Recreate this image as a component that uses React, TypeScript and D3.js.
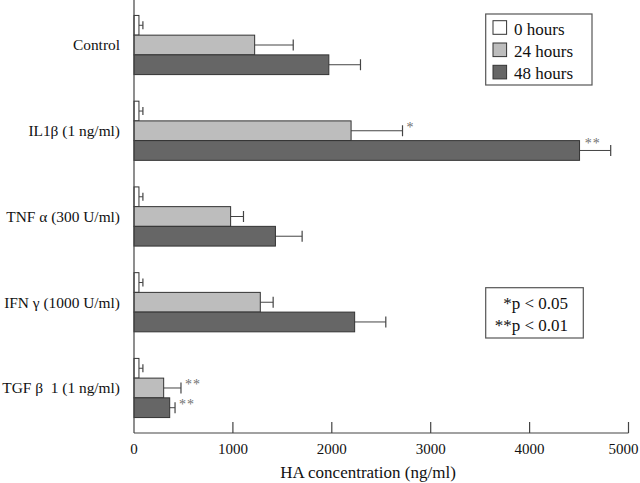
import React from "react";
import * as d3 from "d3";

const categories = ["Control", "IL1β (1 ng/ml)", "TNF α (300 U/ml)", "IFN γ (1000 U/ml)", "TGF β\u00a0\u00a01 (1 ng/ml)"];
const seriesNames = ["0 hours", "24 hours", "48 hours"];
const hours0 = [50, 50, 50, 50, 50];
const hours24 = [1220, 2195, 977, 1277, 300];
const hours48 = [1970, 4505, 1430, 2231, 361];
const err0 = [40, 40, 40, 40, 40];
const err24 = [390, 520, 130, 130, 175];
const err48 = [320, 315, 270, 315, 54];
const sig24 = ["", "*", "", "", "**"];
const sig48 = ["", "**", "", "", "**"];
const xTicks = [0, 1000, 2000, 3000, 4000, 5000];
const pNotes = ["*p < 0.05", "**p < 0.01"];

const fills = ["#ffffff", "#bdbdbd", "#666666"];
const FONT = "'Liberation Serif', 'Times New Roman', serif";

export default function App() {
  const x0 = 134;
  const x1 = 628.5;
  const axisY = 433;
  const x = d3.scaleLinear().domain([0, 5000]).range([x0, x1]);
  const y = d3.scaleBand<string>().domain(categories).range([0, axisY]).paddingInner(0.31).paddingOuter(0.18);
  const sub = d3.scaleBand<number>().domain([0, 1, 2]).range([0, y.bandwidth()]);
  const values = [hours0, hours24, hours48];
  const errs = [err0, err24, err48];
  const sigs = [null, sig24, sig48];

  return (
    <svg width={640} height={483} style={{ position: "absolute", left: 0, top: 0, background: "#fff" }} fontFamily={FONT}>
      {categories.map((c, ci) => (
        <g key={c}>
          {values.map((vals, si) => {
            const yy = (y(c) as number) + (sub(si) as number);
            const h = sub.bandwidth();
            const xe = x(vals[ci]);
            const xErr = x(vals[ci] + errs[si][ci]);
            const cy = yy + h / 2;
            const capH = si === 0 ? 8 : 11;
            const s = sigs[si] ? (sigs[si] as string[])[ci] : "";
            return (
              <g key={si}>
                <line x1={xe} x2={xErr} y1={cy} y2={cy} stroke="#444" strokeWidth={1} />
                <line x1={xErr} x2={xErr} y1={cy - capH / 2} y2={cy + capH / 2} stroke="#444" strokeWidth={1.2} />
                <rect x={x0} y={yy} width={xe - x0} height={h} fill={fills[si]} stroke="#333" strokeWidth={1} />
                {s && (
                  <text x={Math.max(xErr, xe) + (si === 2 && ci === 1 ? -26 : 4)} y={cy + (si === 2 && ci === 1 ? -2 : 1)} fontSize={14} fill="#707070" letterSpacing={1}>
                    {s}
                  </text>
                )}
              </g>
            );
          })}
          <text x={120} y={(y(c) as number) + y.bandwidth() / 2} dy="0.35em" textAnchor="end" fontSize={15.4} fill="#111" style={{ whiteSpace: "pre" }}>
            {c}
          </text>
        </g>
      ))}
      {/* axes */}
      <line x1={x0} x2={x0} y1={0} y2={axisY} stroke="#444" strokeWidth={1.2} />
      <line x1={x0} x2={x1} y1={axisY} y2={axisY} stroke="#444" strokeWidth={1.2} />
      {xTicks.map((t, i) => (
        <g key={t}>
          {t > 0 && <line x1={x(t)} x2={x(t)} y1={axisY - 11} y2={axisY} stroke="#444" strokeWidth={1.2} />}
          <text x={x(t) - (i === xTicks.length - 1 ? 5 : 0)} y={454} textAnchor="middle" fontSize={15} fill="#111">
            {t}
          </text>
        </g>
      ))}
      <text x={368} y={478} textAnchor="middle" fontSize={17} fill="#111">
        HA concentration (ng/ml)
      </text>
      {/* legend */}
      <rect x={485.7} y={14} width={106.3} height={71} fill="#fff" stroke="#555" strokeWidth={1.2} />
      {seriesNames.map((n, i) => (
        <g key={n}>
          <rect x={493} y={20.7 + i * 22.3} width={13.6} height={13.6} fill={fills[i]} stroke="#333" strokeWidth={1} />
          <text x={514} y={34.8 + i * 22.3} fontSize={17} fill="#111">
            {n}
          </text>
        </g>
      ))}
      {/* p-value box */}
      <rect x={485.7} y={287.7} width={97.6} height={50.3} fill="#fff" stroke="#555" strokeWidth={1.2} />
      {pNotes.map((p, i) => (
        <text key={p} x={568} y={309 + i * 22} textAnchor="end" fontSize={17} fill="#111">
          {p}
        </text>
      ))}
    </svg>
  );
}
